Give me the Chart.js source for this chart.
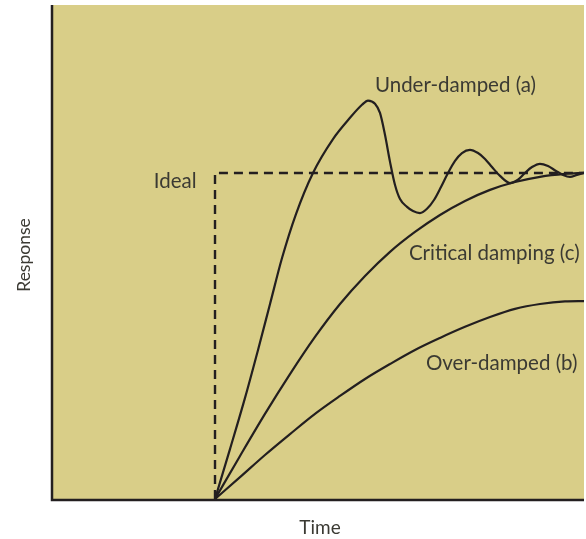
<!DOCTYPE html>
<html>
<head>
<meta charset="utf-8">
<script src="https://cdn.jsdelivr.net/npm/chart.js@4/dist/chart.umd.min.js"></script>
<style>
    html, body { margin: 0; padding: 0; background: #fff; }
    #wrap { width: 586px; height: 539px; }
</style>
</head>
<body>
<div id="wrap"><canvas id="responseChart"></canvas></div>
<script>
// Response curves (time 0..100, response where ideal = 1)
const idealX = [30.51, 30.51, 100];
const idealY = [0, 1, 1];

const underX = [30.51, 33.33, 36.16, 38.61, 40.87, 43.13, 45.76, 48.96, 52.73, 55.93, 58.19, 59.32, 60.64, 61.58, 62.52, 63.47, 64.41, 65.35, 66.67, 67.80, 69.11, 70.43, 71.75, 73.07, 74.39, 75.71, 77.02, 78.53, 80.04, 81.36, 82.67, 84.18, 86.06, 87.57, 88.89, 90.21, 91.71, 93.22, 94.73, 96.05, 97.36, 98.68, 100];
const underY = [0, 0.153, 0.310, 0.457, 0.598, 0.739, 0.874, 1.0, 1.104, 1.169, 1.209, 1.222, 1.212, 1.184, 1.117, 1.034, 0.963, 0.920, 0.896, 0.883, 0.877, 0.890, 0.917, 0.957, 1.0, 1.037, 1.061, 1.071, 1.061, 1.043, 1.018, 0.991, 0.969, 0.979, 1.0, 1.018, 1.028, 1.021, 1.006, 0.994, 0.988, 0.994, 1.0];

const criticalX = [30.51, 35.22, 39.92, 44.63, 49.34, 54.05, 58.76, 63.47, 68.17, 72.88, 77.59, 82.30, 87.01, 91.71, 96.42, 100];
const criticalY = [0, 0.132, 0.261, 0.383, 0.497, 0.598, 0.684, 0.758, 0.819, 0.871, 0.914, 0.948, 0.972, 0.988, 0.997, 1.0];

const overX = [30.51, 35.22, 39.92, 44.63, 49.34, 54.05, 58.76, 63.47, 68.17, 72.88, 77.59, 82.30, 87.01, 91.71, 96.42, 100];
const overY = [0, 0.067, 0.135, 0.199, 0.261, 0.316, 0.368, 0.414, 0.457, 0.494, 0.528, 0.558, 0.583, 0.598, 0.606, 0.607];

// Curve names, anchored at the text baseline centre
const curveLabels = [
    { text: 'Under-damped (a)', x: 75.8, y: 1.248 },
    { text: 'Ideal', x: 23.0, y: 0.953 },
    { text: 'Critical damping (c)', x: 83.1, y: 0.733 },
    { text: 'Over-damped (b)', x: 84.5, y: 0.396 }
];

const INK = '#231f20';
const TEXT = '#3b3a33';
const PANEL = '#d9ce88';
const FAMILY = 'Lato, "Open Sans", sans-serif';

function pts(xs, ys) {
    return xs.map((x, i) => ({ x: x, y: ys[i] }));
}

// Panel background, axis lines and text
const decor = {
    id: 'decor',
    beforeDraw(chart) {
        const { ctx, chartArea: a } = chart;
        ctx.save();
        ctx.fillStyle = PANEL;
        ctx.fillRect(a.left, a.top, a.right - a.left, a.bottom - a.top);
        ctx.restore();
    },
    afterDraw(chart) {
        const { ctx, chartArea: a, scales } = chart;
        ctx.save();
        ctx.strokeStyle = INK;
        ctx.lineWidth = 2.5;
        ctx.beginPath();
        ctx.moveTo(52, a.top);
        ctx.lineTo(52, 500);
        ctx.lineTo(a.right, 500);
        ctx.stroke();

        ctx.fillStyle = TEXT;
        ctx.font = '20.5px ' + FAMILY;
        ctx.textBaseline = 'alphabetic';
        ctx.textAlign = 'center';
        curveLabels.forEach(l => {
            ctx.fillText(l.text, scales.x.getPixelForValue(l.x), scales.y.getPixelForValue(l.y));
        });

        ctx.font = '19px ' + FAMILY;
        ctx.fillText('Time', 320, 534);
        ctx.font = '17.5px ' + FAMILY;
        ctx.translate(30, 255);
        ctx.rotate(-Math.PI / 2);
        ctx.fillText('Response', 0, 0);
        ctx.restore();
    }
};

function line(data, dashed) {
    return {
        data: data,
        borderColor: INK,
        borderWidth: dashed ? 2.4 : 2.2,
        borderDash: dashed ? [9, 6] : [],
        pointRadius: 0,
        fill: false,
        tension: dashed ? 0 : 0.4,
        cubicInterpolationMode: dashed ? 'default' : 'monotone'
    };
}

new Chart(document.getElementById('responseChart'), {
    type: 'line',
    data: {
        datasets: [
            line(pts(idealX, idealY), true),
            line(pts(underX, underY), false),
            line(pts(criticalX, criticalY), false),
            line(pts(overX, overY), false)
        ]
    },
    options: {
        responsive: true,
        maintainAspectRatio: false,
        animation: false,
        layout: { padding: { left: 53, top: 5, right: 2, bottom: 40 } },
        plugins: {
            legend: { display: false },
            tooltip: { enabled: false }
        },
        scales: {
            x: { type: 'linear', display: false, min: 0, max: 100 },
            y: { display: false, min: 0, max: 1.515 }
        }
    },
    plugins: [decor]
});
</script>
</body>
</html>
